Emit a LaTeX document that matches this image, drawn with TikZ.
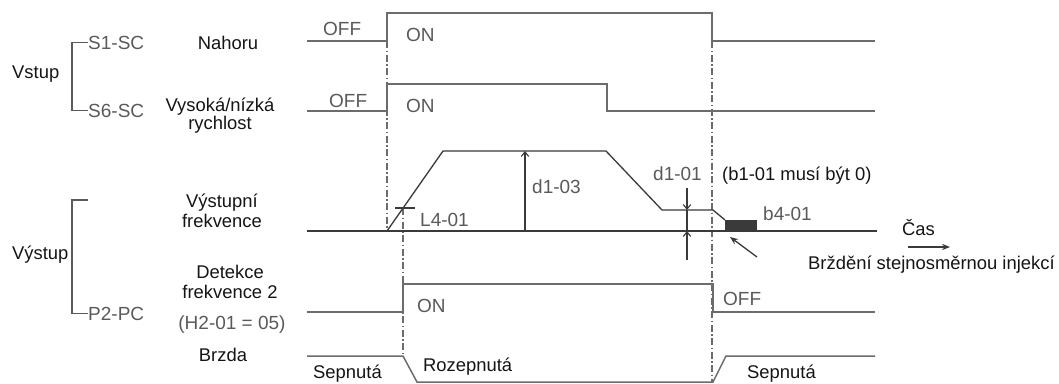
\documentclass[tikz,border=0pt]{standalone}
\usepackage{fontspec}
\setmainfont{Liberation Sans}
\usetikzlibrary{arrows.meta,positioning,calc}
\definecolor{Paper}{HTML}{FFFFFF}
\definecolor{Wire}{HTML}{6C6C6C}
\definecolor{Trace}{HTML}{3A3A3A}
\definecolor{Faded}{HTML}{5A5A5A}
\definecolor{Ink}{HTML}{151515}
\tikzset{txt/.style={text=Ink,inner sep=0pt,font=\fontsize{18.4}{21}\selectfont},gtxt/.style={text=Faded,inner sep=0pt,font=\fontsize{19}{21}\selectfont},sig/.style={draw=Wire,line width=1.5pt,line join=miter},guide/.style={draw=Wire,line width=1.1pt,dash pattern=on 7pt off 2.5pt on 1.5pt off 2.5pt},trace/.style={draw=Trace,line width=1.3pt,line join=round},bracket/.style={draw=Faded,line width=1.5pt},dim/.style={draw=Trace,line width=1.1pt,-{Straight Barb[length=1.6mm,width=2.6mm]}},pointer/.style={draw=Trace,line width=1.3pt,-{Stealth[length=2.8mm,width=2.2mm]}}}
\begin{document}
\begin{tikzpicture}[x=1pt,y=-1pt]
\useasboundingbox[fill=Paper] (0,0) rectangle (1059,383);
% left hand labels
\node[txt,anchor=base west] (vstup) at (12,78) {Vstup};
\node[gtxt,anchor=base west] (S1) at (88,49) {S1-SC};\node[gtxt,anchor=base west] (S6) at (88,117) {S6-SC};
\draw[bracket] (S1.west) -- ++(-16,0) |- (S6.west);
\node[txt,anchor=base] (nahoru) at (228,49) {Nahoru};
\node[txt,anchor=base] (vysoka) at (220,111) {Vysoká/nízká};\node[txt,anchor=base] (rychlost) at (220,129) {rychlost};
\node[txt,anchor=base west] (vystup) at (12,259) {Výstup};
\coordinate (outtop) at (88,200);\node[gtxt,anchor=base west] (P2) at (88,320) {P2-PC};
\draw[bracket] (outtop) -- ++(-16,0) |- (P2.west);
\node[txt,anchor=base] (vfreq1) at (222,207) {Výstupní};\node[txt,anchor=base] (vfreq2) at (222,227) {frekvence};
\node[txt,anchor=base] (det1) at (230,278) {Detekce};\node[txt,anchor=base] (det2) at (230,298) {frekvence 2};
\node[gtxt,anchor=base] (h201) at (232,329) {(H2-01 = 05)};
\node[txt,anchor=base] (brzda) at (223,361) {Brzda};
% guide lines
\draw[guide] (387,41) -- (387,231);\draw[guide] (403,208) -- (403,356);\draw[guide] (712,41) -- (712,383);
% S1-SC and S6-SC
\draw[sig] (307,41) -- (387,41) -- (387,13) -- (712,13) -- (712,41) -- (875,41);
\node[gtxt,anchor=base west] (off1) at (323,35) {OFF};\node[gtxt,anchor=base west] (on1) at (406,41) {ON};
\draw[sig] (307,111) -- (387,111) -- (387,84) -- (607,84) -- (607,111) -- (875,111);
\node[gtxt,anchor=base west] (off2) at (329,107) {OFF};\node[gtxt,anchor=base west] (on2) at (406,112) {ON};
% output frequency
\draw[trace] (307,231) -- (757,231);\draw[trace,line width=2pt] (757,231) -- (877,231);
\draw[trace] (387,231) -- (443,151) -- (606,151) -- (662,210) -- (713,210) -- (725,220);
\fill[Trace] (725,220) rectangle (757,231.6);
\coordinate (accfoot) at (525,231);\coordinate (acctop) at (525,151);\draw[dim] (accfoot) -- (acctop);
\node[gtxt,anchor=base west] (d103) at (532,193) {d1-03};
\coordinate (l4a) at (395,208);\coordinate (l4b) at (415,208);\draw[trace,line width=1.1pt] (l4a) -- (l4b);
\node[gtxt,anchor=base west] (l401) at (420,226) {L4-01};
\coordinate (dzt) at (687,188);\coordinate (dzu) at (687,210);\coordinate (dzl) at (687,231);\coordinate (dzb) at (687,260);
\draw[dim] (dzt) -- (dzu);\draw[dim] (dzb) -- (dzl);\draw[trace,line width=1.1pt] (dzu) -- (dzl);
\node[gtxt,anchor=base west] (d101) at (653,180) {d1-01};
\node[txt,anchor=base west] (b101) at (722,180) {(b1-01 musí být 0)};
\node[gtxt,anchor=base west] (b401) at (763,220) {b4-01};
\coordinate (dctail) at (757,257);\coordinate (dchead) at (730,237);\draw[pointer] (dctail) -- (dchead);
\node[txt,anchor=base west] (cas) at (902,235) {Čas};
\coordinate (castail) at (908,247);\coordinate (cashead) at (950,247);\draw[pointer] (castail) -- (cashead);
\node[txt,anchor=base west] (dcbrake) at (808,269) {Brždění stejnosměrnou injekcí};
% P2-PC
\draw[sig] (307,312) -- (403,312) -- (403,284) -- (713,284) -- (713,312) -- (875,312);
\node[gtxt,anchor=base west] (on3) at (417,312) {ON};\node[gtxt,anchor=base west] (off3) at (723,305) {OFF};
% brake
\draw[sig] (307,356) -- (403,356) -- (417,382) -- (713,382) -- (726,356) -- (875,356);
\node[txt,anchor=base west] (sep1) at (313,378) {Sepnutá};\node[txt,anchor=base west] (rozep) at (423,371) {Rozepnutá};\node[txt,anchor=base west] (sep2) at (747,378) {Sepnutá};
\end{tikzpicture}
\end{document}
